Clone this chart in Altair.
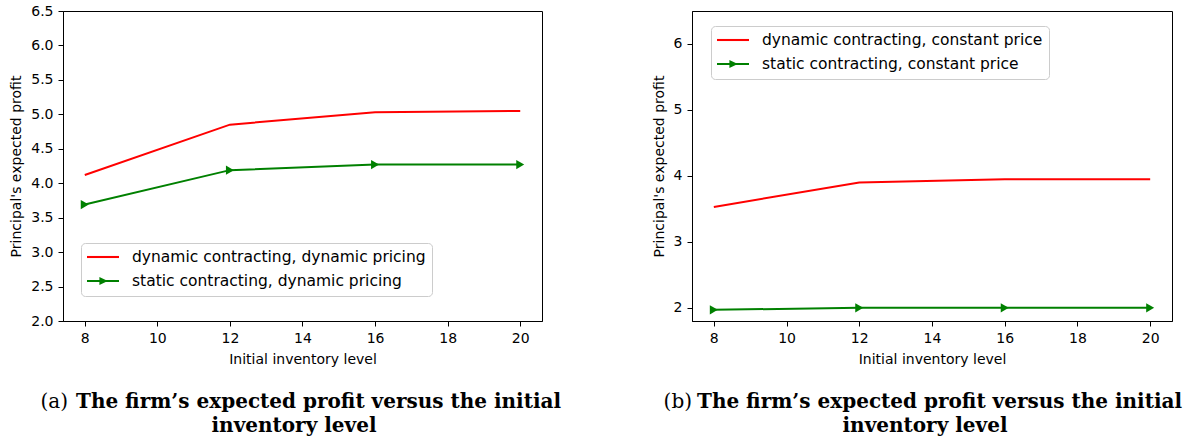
import altair as alt
import pandas as pd

# ---------------- data ----------------
inventory = [8, 12, 16, 20]

a_series = ["dynamic contracting, dynamic pricing", "static contracting, dynamic pricing"]
a_dynamic = [4.12, 4.85, 5.03, 5.05]
a_static = [3.69, 4.19, 4.27, 4.27]

b_series = ["dynamic contracting, constant price", "static contracting, constant price"]
b_dynamic = [3.53, 3.90, 3.95, 3.95]
b_static = [1.97, 2.00, 2.00, 2.00]

x_ticks = [8, 10, 12, 14, 16, 18, 20]
a_y_ticks = [2.0, 2.5, 3.0, 3.5, 4.0, 4.5, 5.0, 5.5, 6.0, 6.5]
b_y_ticks = [2, 3, 4, 5, 6]

x_label = "Initial inventory level"
y_label = "Principal's expected profit"

caption_a = ["(a)", "The firm\u2019s expected profit versus the initial", "inventory level"]
caption_b = ["(b)", "The firm\u2019s expected profit versus the initial", "inventory level"]

series_colors = ["#ff0000", "#008000"]

LINE_PATH = "M-2,-0.13H2V0.13H-2Z"
ARROW_PATH = "M-2,-0.13H2V0.13H-2Z M-0.45,-0.5L0.6,0L-0.45,0.5Z"

SANS = "DejaVu Sans"
SERIF = "DejaVu Serif"


def panel(series, dyn, stat, ydomain, yticks, yfmt, caption, legend_xy, cap_x, width):
    n = len(inventory)
    df = pd.DataFrame({
        "x": inventory + inventory,
        "y": dyn + stat,
        "s": [series[0]] * n + [series[1]] * n,
        "c": [series_colors[0]] * n + [series_colors[1]] * n,
    })
    x = alt.X("x:Q",
              scale=alt.Scale(domain=[7.4, 20.6], nice=False, zero=False),
              axis=alt.Axis(values=x_ticks, format="d", title=x_label))
    y = alt.Y("y:Q",
              scale=alt.Scale(domain=ydomain, nice=False, zero=False),
              axis=alt.Axis(values=yticks, format=yfmt, title=y_label))
    cscale = alt.Scale(domain=series, range=series_colors)

    lines = alt.Chart(df).mark_line(strokeWidth=2).encode(
        x=x, y=y, detail="s:N", stroke=alt.Stroke("c:N", scale=None))

    tri = alt.Chart(df).transform_filter(
        alt.datum.s == series[1]
    ).mark_point(shape="triangle-right", filled=True, size=85, opacity=1).encode(
        x=x, y=y, fill=alt.Fill("c:N", scale=None))

    leg = alt.Legend(
        title=None, orient="none", legendX=legend_xy[0], legendY=legend_xy[1],
        fillColor="white", strokeColor="#cccccc", cornerRadius=4, padding=6,
        labelFont=SANS, labelFontSize=15.5, labelColor="black", labelLimit=600,
        symbolSize=256, symbolOffset=8, labelOffset=21, rowPadding=7,
        symbolStrokeWidth=0, symbolOpacity=1,
    )
    # legend carrier: drawn far outside the plot and clipped away
    legend_layer = alt.Chart(df).mark_point(
        filled=True, opacity=1, clip=True).encode(
        x=alt.value(-2000), y=y,
        color=alt.Color("s:N", scale=cscale, legend=leg),
        shape=alt.Shape("s:N", scale=alt.Scale(domain=series, range=[LINE_PATH, ARROW_PATH]), legend=leg),
    )

    cap0 = alt.Chart(pd.DataFrame({"t": [caption[0]]})).mark_text(
        font=SERIF, fontSize=20, align="right", baseline="middle", color="black"
    ).encode(x=alt.value(cap_x[0]), y=alt.value(391), text="t:N")
    cap1 = alt.Chart(pd.DataFrame({"t": [caption[1]]})).mark_text(
        font=SERIF, fontSize=20, fontWeight="bold", align="left", baseline="middle", color="black"
    ).encode(x=alt.value(cap_x[1]), y=alt.value(391), text="t:N")
    cap2 = alt.Chart(pd.DataFrame({"t": [caption[2]]})).mark_text(
        font=SERIF, fontSize=20, fontWeight="bold", align="center", baseline="middle", color="black"
    ).encode(x=alt.value(cap_x[2]), y=alt.value(415), text="t:N")

    return alt.layer(lines, tri, legend_layer, cap0, cap1, cap2).properties(
        width=width, height=310)


left = panel(a_series, a_dynamic, a_static, [2.0, 6.5], a_y_ticks, ".1f",
             caption_a, (18, 232), (5, 13, 231), 479)
right = panel(b_series, b_dynamic, b_static, [1.8, 6.5], b_y_ticks, "d",
              caption_b, (19, 15), (0, 5, 233), 480)

chart = alt.hconcat(left, right, spacing=150, bounds="flush").resolve_scale(
    x="independent", y="independent", color="independent", shape="independent"
).resolve_legend(color="independent", shape="independent").properties(
    padding={"left": 9, "top": 3, "right": 0, "bottom": 0}
).configure_view(
    stroke="black", strokeWidth=1
).configure_axis(
    grid=False, domainColor="black", tickColor="black", tickSize=5,
    labelPadding=5, labelFont=SANS, labelFontSize=14, labelColor="black",
    titleFont=SANS, titleFontSize=14, titleFontWeight="normal", titleColor="black",
    titlePadding=7,
)

chart.save("out.html", embed_options={"renderer": "svg", "actions": False})
